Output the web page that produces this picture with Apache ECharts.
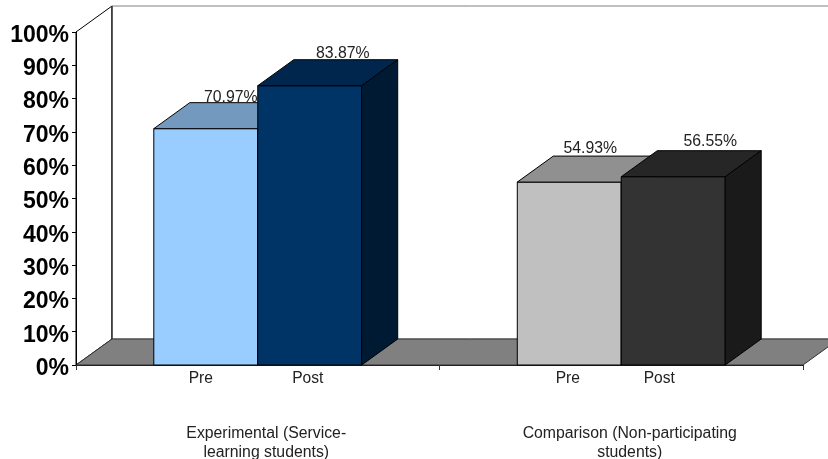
<!DOCTYPE html>
<html><head><meta charset="utf-8">
<style>html,body{margin:0;padding:0;background:#fff}#c{width:828px;height:459px}</style>
<script src="https://cdn.jsdelivr.net/npm/echarts@6/dist/echarts.min.js"></script>
</head><body><div id="c"></div>
<script>
var groups = ['Experimental (Service-\nlearning students)', 'Comparison (Non-participating\nstudents)'];
var yTicks = [0,10,20,30,40,50,60,70,80,90,100];
var preName = 'Pre', postName = 'Post';
var preValues = [70.97, 54.93];
var postValues = [83.87, 56.55];

var DX = 36, DY = -26, BAR = 0.286, FONT = 'Liberation Sans, Arial, sans-serif';
var styles = {
  pre: [{f:'#99CCFF',t:'#7399BF',s:'#4D6680'},{f:'#C0C0C0',t:'#909090',s:'#606060'}],
  post:[{f:'#003366',t:'#00264D',s:'#001A33'},{f:'#333333',t:'#262626',s:'#1A1A1A'}]
};
var valueShift = {pre:[-11,-15], post:[-3,1]};
var valueLift = {pre:[-3,-1], post:[-2,1]};
var nameShift = {pre:[-5,-1.5], post:[-2,-14]};

function poly(pts, fill, stroke){
  return {type:'polygon', shape:{points:pts}, style:{fill:fill, stroke:stroke||'#000', lineWidth:1}};
}
function barItem(kind, side, name){
  return function(params, api){
    var i = params.dataIndex, v = api.value(1);
    var c = api.coord([i, v]), b = api.coord([i, 0]);
    var band = api.size([1,0])[0], w = band*BAR;
    var x0 = side<0 ? c[0]-w : c[0], x1 = x0+w, yt = c[1], yb = b[1];
    var st = styles[kind][i];
    return {type:'group', children:[
      poly([[x0,yb],[x1,yb],[x1,yt],[x0,yt]], st.f),
      poly([[x0,yt],[x1,yt],[x1+DX,yt+DY],[x0+DX,yt+DY]], st.t),
      poly([[x1,yb],[x1+DX,yb+DY],[x1+DX,yt+DY],[x1,yt]], st.s),
      {type:'text', style:{text:v.toFixed(2)+'%', x:(x0+x1)/2+DX+valueShift[kind][i], y:yt+DY-valueLift[kind][i],
        align:'center', verticalAlign:'bottom', fill:'#222', font:'15.8px '+FONT}},
      {type:'text', style:{text:name, x:(x0+x1)/2+nameShift[kind][i], y:b[1]+14,
        align:'center', verticalAlign:'middle', fill:'#222', font:'15.6px '+FONT}}
    ]};
  };
}
function wallItem(params, api){
  var band = api.size([1,0])[0];
  var bl = api.coord([0,0]), tl = api.coord([0,100]);
  var L = bl[0]-band/2, R = L+band*2, B = bl[1], T = tl[1];
  return {type:'group', children:[
    poly([[L,B],[L+DX,B+DY],[L+DX,T+DY],[L,T]], '#fff'),
    poly([[L+DX,B+DY],[R+DX,B+DY],[R+DX,T+DY],[L+DX,T+DY]], '#fff', '#808080'),
    {type:'line', shape:{x1:L+DX,y1:B+DY,x2:L+DX,y2:T+DY}, style:{stroke:'#000',lineWidth:1}},
    poly([[L,B],[L+DX,B+DY],[R+DX,B+DY],[R,B]], '#808080', '#333')
  ]};
}
var chart = echarts.init(document.getElementById('c'), null, {renderer:'canvas'});
chart.setOption({
  animation:false,
  backgroundColor:'#fff',
  grid:{left:76,right:25,top:32,bottom:94,outerBoundsMode:'none',containLabel:false},
  xAxis:{type:'category',data:groups,z:1,
    axisLine:{lineStyle:{color:'#222',width:1}},
    axisTick:{show:true,length:5,alignWithLabel:false,lineStyle:{color:'#333'}},
    axisLabel:{margin:59,color:'#222',fontFamily:FONT,fontSize:15.8,lineHeight:19,padding:[0,0,0,17],interval:0}},
  yAxis:{type:'value',min:0,max:100,interval:10,z:1,
    splitLine:{show:false},
    axisLine:{show:true,lineStyle:{color:'#000',width:1}},
    axisTick:{show:true,length:4,lineStyle:{color:'#000'}},
    axisLabel:{margin:7,color:'#000',
      rich:{a:{fontFamily:FONT,fontSize:23,fontWeight:'bold',color:'#000',padding:[7,0,0,0]}},
      formatter:function(v){return yTicks.indexOf(v)>=0 ? '{a|'+v+'%}' : '';}}},
  series:[
    {type:'custom',z:0,silent:true,clip:false,coordinateSystem:'cartesian2d',data:[[0,0]],renderItem:wallItem},
    {type:'custom',name:preName,z:2,clip:false,data:preValues.map(function(v,i){return [i,v];}),renderItem:barItem('pre',-1,preName)},
    {type:'custom',name:postName,z:3,clip:false,data:postValues.map(function(v,i){return [i,v];}),renderItem:barItem('post',1,postName)}
  ]
});
</script></body></html>
